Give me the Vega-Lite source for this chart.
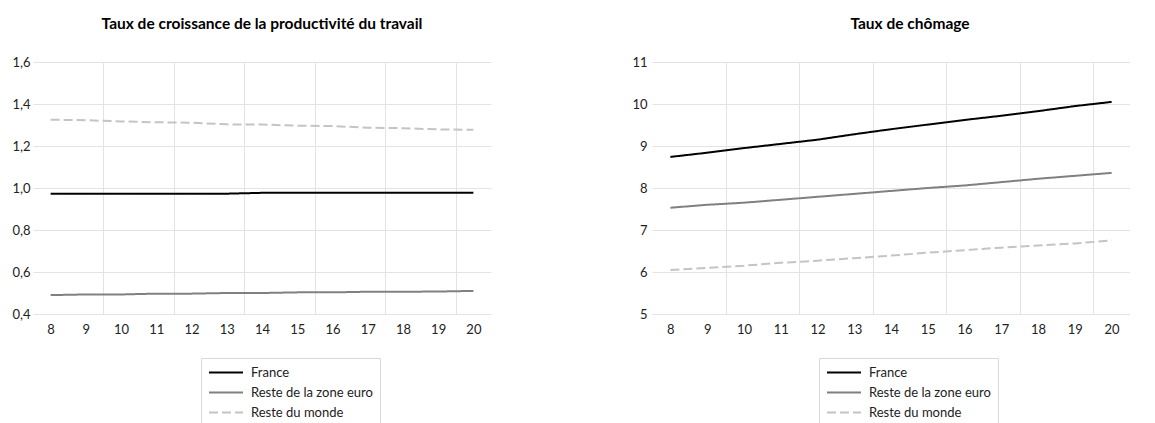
{
  "$schema": "https://vega.github.io/schema/vega-lite/v6.json",
  "padding": {"left": 0, "top": 16, "right": 0, "bottom": 0},
  "background": "white",
  "config": {
    "font": "Lato",
    "view": {"stroke": null},
    "concat": {"spacing": 140},
    "title": {"fontSize": 15.5, "fontWeight": "bold", "color": "#000000", "baseline": "alphabetic", "offset": 24, "frame": "group", "anchor": "middle"},
    "axis": {"labelFont": "Lato", "labelFontSize": 13, "labelColor": "#222222", "gridColor": "#e3e3e3", "gridWidth": 1, "domain": false, "ticks": false, "title": null}
  },
  "datasets": {
    "prod": [
      {"annee": 8, "serie": "France", "valeur": 0.973},
      {"annee": 9, "serie": "France", "valeur": 0.973},
      {"annee": 10, "serie": "France", "valeur": 0.973},
      {"annee": 11, "serie": "France", "valeur": 0.973},
      {"annee": 12, "serie": "France", "valeur": 0.973},
      {"annee": 13, "serie": "France", "valeur": 0.973},
      {"annee": 14, "serie": "France", "valeur": 0.977},
      {"annee": 15, "serie": "France", "valeur": 0.977},
      {"annee": 16, "serie": "France", "valeur": 0.977},
      {"annee": 17, "serie": "France", "valeur": 0.977},
      {"annee": 18, "serie": "France", "valeur": 0.977},
      {"annee": 19, "serie": "France", "valeur": 0.977},
      {"annee": 20, "serie": "France", "valeur": 0.977},
      {"annee": 8, "serie": "Reste de la zone euro", "valeur": 0.490},
      {"annee": 9, "serie": "Reste de la zone euro", "valeur": 0.493},
      {"annee": 10, "serie": "Reste de la zone euro", "valeur": 0.493},
      {"annee": 11, "serie": "Reste de la zone euro", "valeur": 0.497},
      {"annee": 12, "serie": "Reste de la zone euro", "valeur": 0.497},
      {"annee": 13, "serie": "Reste de la zone euro", "valeur": 0.500},
      {"annee": 14, "serie": "Reste de la zone euro", "valeur": 0.500},
      {"annee": 15, "serie": "Reste de la zone euro", "valeur": 0.503},
      {"annee": 16, "serie": "Reste de la zone euro", "valeur": 0.503},
      {"annee": 17, "serie": "Reste de la zone euro", "valeur": 0.506},
      {"annee": 18, "serie": "Reste de la zone euro", "valeur": 0.506},
      {"annee": 19, "serie": "Reste de la zone euro", "valeur": 0.507},
      {"annee": 20, "serie": "Reste de la zone euro", "valeur": 0.510},
      {"annee": 8, "serie": "Reste du monde", "valeur": 1.325},
      {"annee": 9, "serie": "Reste du monde", "valeur": 1.323},
      {"annee": 10, "serie": "Reste du monde", "valeur": 1.317},
      {"annee": 11, "serie": "Reste du monde", "valeur": 1.313},
      {"annee": 12, "serie": "Reste du monde", "valeur": 1.311},
      {"annee": 13, "serie": "Reste du monde", "valeur": 1.303},
      {"annee": 14, "serie": "Reste du monde", "valeur": 1.302},
      {"annee": 15, "serie": "Reste du monde", "valeur": 1.297},
      {"annee": 16, "serie": "Reste du monde", "valeur": 1.295},
      {"annee": 17, "serie": "Reste du monde", "valeur": 1.287},
      {"annee": 18, "serie": "Reste du monde", "valeur": 1.285},
      {"annee": 19, "serie": "Reste du monde", "valeur": 1.279},
      {"annee": 20, "serie": "Reste du monde", "valeur": 1.277}
    ],
    "chom": [
      {"annee": 8, "serie": "France", "valeur": 8.74},
      {"annee": 9, "serie": "France", "valeur": 8.84},
      {"annee": 10, "serie": "France", "valeur": 8.95},
      {"annee": 11, "serie": "France", "valeur": 9.05},
      {"annee": 12, "serie": "France", "valeur": 9.15},
      {"annee": 13, "serie": "France", "valeur": 9.28},
      {"annee": 14, "serie": "France", "valeur": 9.40},
      {"annee": 15, "serie": "France", "valeur": 9.51},
      {"annee": 16, "serie": "France", "valeur": 9.62},
      {"annee": 17, "serie": "France", "valeur": 9.72},
      {"annee": 18, "serie": "France", "valeur": 9.83},
      {"annee": 19, "serie": "France", "valeur": 9.95},
      {"annee": 20, "serie": "France", "valeur": 10.05},
      {"annee": 8, "serie": "Reste de la zone euro", "valeur": 7.53},
      {"annee": 9, "serie": "Reste de la zone euro", "valeur": 7.60},
      {"annee": 10, "serie": "Reste de la zone euro", "valeur": 7.65},
      {"annee": 11, "serie": "Reste de la zone euro", "valeur": 7.72},
      {"annee": 12, "serie": "Reste de la zone euro", "valeur": 7.79},
      {"annee": 13, "serie": "Reste de la zone euro", "valeur": 7.86},
      {"annee": 14, "serie": "Reste de la zone euro", "valeur": 7.93},
      {"annee": 15, "serie": "Reste de la zone euro", "valeur": 8.00},
      {"annee": 16, "serie": "Reste de la zone euro", "valeur": 8.06},
      {"annee": 17, "serie": "Reste de la zone euro", "valeur": 8.14},
      {"annee": 18, "serie": "Reste de la zone euro", "valeur": 8.22},
      {"annee": 19, "serie": "Reste de la zone euro", "valeur": 8.29},
      {"annee": 20, "serie": "Reste de la zone euro", "valeur": 8.36},
      {"annee": 8, "serie": "Reste du monde", "valeur": 6.05},
      {"annee": 9, "serie": "Reste du monde", "valeur": 6.10},
      {"annee": 10, "serie": "Reste du monde", "valeur": 6.15},
      {"annee": 11, "serie": "Reste du monde", "valeur": 6.22},
      {"annee": 12, "serie": "Reste du monde", "valeur": 6.27},
      {"annee": 13, "serie": "Reste du monde", "valeur": 6.33},
      {"annee": 14, "serie": "Reste du monde", "valeur": 6.39},
      {"annee": 15, "serie": "Reste du monde", "valeur": 6.46},
      {"annee": 16, "serie": "Reste du monde", "valeur": 6.52},
      {"annee": 17, "serie": "Reste du monde", "valeur": 6.58},
      {"annee": 18, "serie": "Reste du monde", "valeur": 6.63},
      {"annee": 19, "serie": "Reste du monde", "valeur": 6.68},
      {"annee": 20, "serie": "Reste du monde", "valeur": 6.75}
    ]
  },
  "hconcat": [
    {
      "width": 458,
      "height": 252,
      "title": {"text": "Taux de croissance de la productivité du travail"},
      "data": {"name": "prod"},
      "encoding": {
        "y": {"field": "valeur", "type": "quantitative",
          "scale": {"domain": [0.4, 1.6], "nice": false, "zero": false},
          "axis": {"values": [0.4, 0.6, 0.8, 1.0, 1.2, 1.4, 1.6], "labelExpr": "replace(format(datum.value, '.1f'), '.', ',')", "grid": true, "labelPadding": 3, "minExtent": 33, "maxExtent": 33}},
        "color": {"field": "serie", "type": "nominal",
          "scale": {"domain": ["France", "Reste de la zone euro", "Reste du monde"], "range": ["#000000", "#808080", "#c4c4c4"]},
          "legend": {"title": null, "orient": "none", "legendX": 168, "legendY": 296, "strokeColor": "#d9d9d9", "padding": 7, "symbolType": "stroke", "symbolSize": 1156, "symbolStrokeWidth": 2, "labelFont": "Lato", "labelFontSize": 13, "labelOffset": 7, "labelColor": "#222222", "rowPadding": 5, "clipHeight": 15}},
        "strokeDash": {"field": "serie", "type": "nominal",
          "scale": {"domain": ["France", "Reste de la zone euro", "Reste du monde"], "range": [[1, 0], [1, 0], [9, 4]]},
          "legend": {"title": null, "orient": "none", "legendX": 168, "legendY": 296, "strokeColor": "#d9d9d9", "padding": 7, "symbolType": "stroke", "symbolSize": 1156, "symbolStrokeWidth": 2, "labelFont": "Lato", "labelFontSize": 13, "labelOffset": 7, "labelColor": "#222222", "rowPadding": 5, "clipHeight": 15}}
      },
      "layer": [
        {
          "transform": [{"filter": "datum.serie !== 'Reste du monde'"}],
          "mark": {"type": "line", "strokeWidth": 2},
          "encoding": {
            "x": {"field": "annee", "type": "quantitative",
              "scale": {"domain": [7.5, 20.5], "nice": false, "zero": false},
              "axis": {"orient": "bottom", "values": [8, 9, 10, 11, 12, 13, 14, 15, 16, 17, 18, 19, 20], "grid": false, "labelPadding": 9}}
          }
        },
        {
          "transform": [{"filter": "datum.serie === 'Reste du monde'"}],
          "mark": {"type": "line", "strokeWidth": 2},
          "encoding": {
            "x": {"field": "annee", "type": "quantitative",
              "scale": {"domain": [7.5, 20.5], "nice": false, "zero": false},
              "axis": {"orient": "top", "values": [9.5, 11.5, 13.5, 15.5, 17.5, 19.5], "grid": true, "labels": false, "minExtent": 0, "maxExtent": 0}}
          }
        }
      ],
      "resolve": {"axis": {"x": "independent"}}
    },
    {
      "width": 478,
      "height": 252,
      "title": {"text": "Taux de chômage", "dx": 19},
      "data": {"name": "chom"},
      "encoding": {
        "y": {"field": "valeur", "type": "quantitative",
          "scale": {"domain": [5, 11], "nice": false, "zero": false},
          "axis": {"values": [5, 6, 7, 8, 9, 10, 11], "format": "d", "grid": true, "labelPadding": 5, "minExtent": 20, "maxExtent": 20}},
        "color": {"field": "serie", "type": "nominal",
          "scale": {"domain": ["France", "Reste de la zone euro", "Reste du monde"], "range": ["#000000", "#808080", "#c4c4c4"]},
          "legend": {"title": null, "orient": "none", "legendX": 167, "legendY": 296, "strokeColor": "#d9d9d9", "padding": 7, "symbolType": "stroke", "symbolSize": 1156, "symbolStrokeWidth": 2, "labelFont": "Lato", "labelFontSize": 13, "labelOffset": 7, "labelColor": "#222222", "rowPadding": 5, "clipHeight": 15}},
        "strokeDash": {"field": "serie", "type": "nominal",
          "scale": {"domain": ["France", "Reste de la zone euro", "Reste du monde"], "range": [[1, 0], [1, 0], [9, 4]]},
          "legend": {"title": null, "orient": "none", "legendX": 167, "legendY": 296, "strokeColor": "#d9d9d9", "padding": 7, "symbolType": "stroke", "symbolSize": 1156, "symbolStrokeWidth": 2, "labelFont": "Lato", "labelFontSize": 13, "labelOffset": 7, "labelColor": "#222222", "rowPadding": 5, "clipHeight": 15}}
      },
      "layer": [
        {
          "transform": [{"filter": "datum.serie !== 'Reste du monde'"}],
          "mark": {"type": "line", "strokeWidth": 2},
          "encoding": {
            "x": {"field": "annee", "type": "quantitative",
              "scale": {"domain": [7.5, 20.5], "nice": false, "zero": false},
              "axis": {"orient": "bottom", "values": [8, 9, 10, 11, 12, 13, 14, 15, 16, 17, 18, 19, 20], "grid": false, "labelPadding": 9}}
          }
        },
        {
          "transform": [{"filter": "datum.serie === 'Reste du monde'"}],
          "mark": {"type": "line", "strokeWidth": 2},
          "encoding": {
            "x": {"field": "annee", "type": "quantitative",
              "scale": {"domain": [7.5, 20.5], "nice": false, "zero": false},
              "axis": {"orient": "top", "values": [9.5, 11.5, 13.5, 15.5, 17.5, 19.5], "grid": true, "labels": false, "minExtent": 0, "maxExtent": 0}}
          }
        }
      ],
      "resolve": {"axis": {"x": "independent"}}
    }
  ],
  "resolve": {"scale": {"x": "independent", "y": "independent", "color": "independent", "strokeDash": "independent"}, "legend": {"color": "independent", "strokeDash": "independent"}}
}
